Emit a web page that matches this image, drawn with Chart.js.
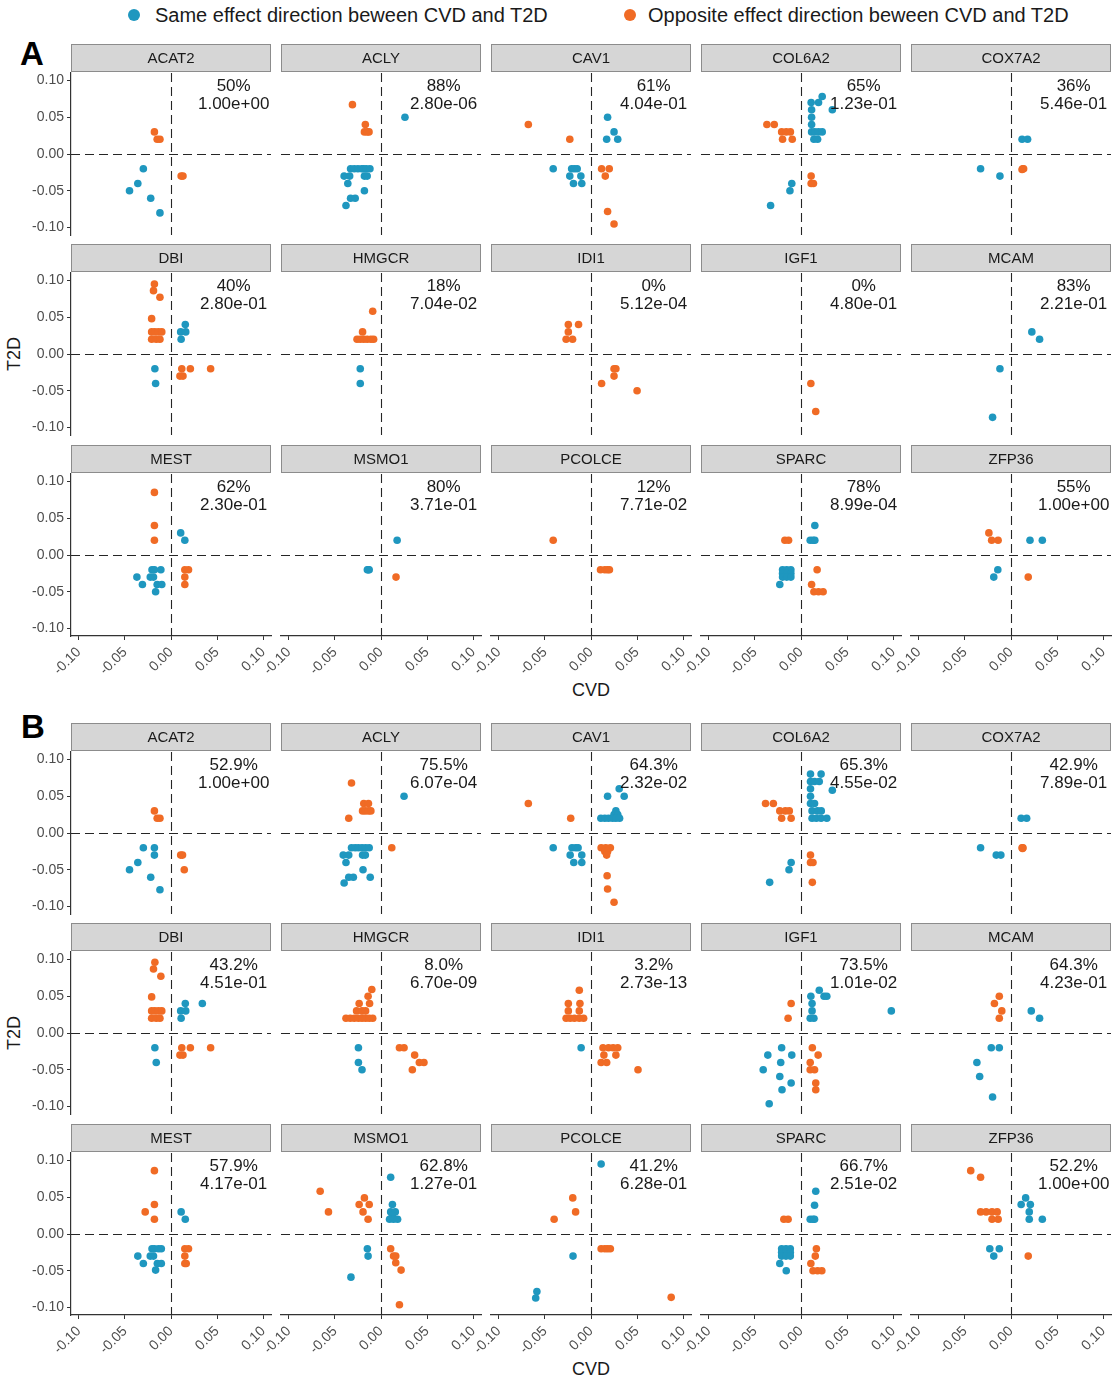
<!DOCTYPE html>
<html>
<head>
<meta charset="utf-8">
<script src="https://cdn.jsdelivr.net/npm/chart.js@4.4.1/dist/chart.umd.min.js"></script>
<style>
  html, body { margin: 0; padding: 0; background: #fff; }
  #fig { position: relative; width: 1113px; height: 1379px; overflow: hidden;
         font-family: "Liberation Sans", Arial, sans-serif; color: #1a1a1a; }
  #fig canvas { position: absolute; }
  .lbl { position: absolute; white-space: nowrap; }
  .dot { position: absolute; width: 12px; height: 12px; border-radius: 50%; }
</style>
</head>
<body>
<div id="fig">
  <span class="dot" id="dotSame" style="left:128px;top:9px"></span>
  <div class="lbl" style="left:155px;top:3px;font-size:20px;line-height:24px">Same effect direction beween CVD and T2D</div>
  <span class="dot" id="dotOpp" style="left:624px;top:9px"></span>
  <div class="lbl" style="left:648px;top:3px;font-size:20px;line-height:24px">Opposite effect direction beween CVD and T2D</div>

  <div class="lbl" style="left:20px;top:37px;font-size:33px;line-height:33px;font-weight:bold;color:#000">A</div>
  <div class="lbl" style="left:21px;top:710px;font-size:33px;line-height:33px;font-weight:bold;color:#000">B</div>

  <div class="lbl" style="left:-6px;top:343px;width:40px;text-align:center;font-size:18px;line-height:22px;transform:rotate(-90deg)">T2D</div>
  <div class="lbl" style="left:-6px;top:1022px;width:40px;text-align:center;font-size:18px;line-height:22px;transform:rotate(-90deg)">T2D</div>
  <div class="lbl" style="left:551px;top:679px;width:80px;text-align:center;font-size:18px;line-height:22px">CVD</div>
  <div class="lbl" style="left:551px;top:1358px;width:80px;text-align:center;font-size:18px;line-height:22px">CVD</div>
</div>

<script>
// ---- data -------------------------------------------------------------
const genes = ['ACAT2','ACLY','CAV1','COL6A2','COX7A2','DBI','HMGCR','IDI1','IGF1','MCAM','MEST','MSMO1','PCOLCE','SPARC','ZFP36'];
const tickValues = [-0.10, -0.05, 0.00, 0.05, 0.10];

const pctA  = ['50%','88%','61%','65%','36%','40%','18%','0%','0%','83%','62%','80%','12%','78%','55%'];
const pvalA = ['1.00e+00','2.80e-06','4.04e-01','1.23e-01','5.46e-01','2.80e-01','7.04e-02','5.12e-04','4.80e-01','2.21e-01','2.30e-01','3.71e-01','7.71e-02','8.99e-04','1.00e+00'];
const pctB  = ['52.9%','75.5%','64.3%','65.3%','42.9%','43.2%','8.0%','3.2%','73.5%','64.3%','57.9%','62.8%','41.2%','66.7%','52.2%'];
const pvalB = ['1.00e+00','6.07e-04','2.32e-02','4.55e-02','7.89e-01','4.51e-01','6.70e-09','2.73e-13','1.01e-02','4.23e-01','4.17e-01','1.27e-01','6.28e-01','2.51e-02','1.00e+00'];

// [CVD effect, T2D effect] per gene, same effect direction (set A)
const sameA = [
  [[-0.030,-0.02],[-0.036,-0.04],[-0.045,-0.05],[-0.022,-0.06],[-0.012,-0.08]],
  [[0.026,0.05],[-0.033,-0.02],[-0.029,-0.02],[-0.025,-0.02],[-0.021,-0.02],[-0.019,-0.02],[-0.016,-0.02],[-0.012,-0.02],[-0.040,-0.03],[-0.034,-0.03],[-0.018,-0.03],[-0.015,-0.03],[-0.036,-0.04],[-0.018,-0.05],[-0.033,-0.06],[-0.028,-0.06],[-0.038,-0.07]],
  [[0.018,0.05],[0.025,0.03],[0.017,0.02],[0.029,0.02],[-0.041,-0.02],[-0.021,-0.02],[-0.018,-0.02],[-0.015,-0.02],[-0.023,-0.03],[-0.011,-0.03],[-0.019,-0.04],[-0.010,-0.04]],
  [[0.023,0.078],[0.019,0.07],[0.011,0.07],[0.034,0.06],[0.0115,0.06],[0.0115,0.05],[0.0115,0.04],[0.0115,0.03],[0.015,0.03],[0.019,0.03],[0.023,0.03],[0.014,0.02],[0.018,0.02],[-0.010,-0.04],[-0.012,-0.05],[-0.033,-0.07]],
  [[0.012,0.02],[0.018,0.02],[-0.033,-0.02],[-0.012,-0.03]],
  [[0.0155,0.04],[0.0105,0.03],[0.016,0.03],[0.011,0.02],[-0.0175,-0.02],[-0.0167,-0.04]],
  [[-0.0225,-0.02],[-0.0225,-0.04]],
  [],
  [],
  [[0.0226,0.03],[0.031,0.02],[-0.012,-0.02],[-0.020,-0.086]],
  [[0.0105,0.03],[0.015,0.02],[-0.0206,-0.02],[-0.018,-0.02],[-0.011,-0.02],[-0.037,-0.03],[-0.0225,-0.03],[-0.019,-0.03],[-0.031,-0.04],[-0.015,-0.04],[-0.010,-0.04],[-0.0167,-0.05]],
  [[0.0175,0.02],[-0.0148,-0.02],[-0.0128,-0.02],[-0.0138,-0.02]],
  [],
  [[0.015,0.04],[0.010,0.02],[0.013,0.02],[0.015,0.02],[-0.020,-0.02],[-0.0155,-0.02],[-0.011,-0.02],[-0.020,-0.025],[-0.0155,-0.025],[-0.011,-0.025],[-0.020,-0.03],[-0.0155,-0.03],[-0.011,-0.03],[-0.023,-0.04]],
  [[0.0206,0.02],[0.034,0.02],[-0.0143,-0.02],[-0.0187,-0.03]]
];

// opposite effect direction (set A)
const oppA = [
  [[-0.018,0.03],[-0.015,0.02],[-0.012,0.02],[0.011,-0.03],[0.013,-0.03]],
  [[-0.031,0.067],[-0.017,0.04],[-0.018,0.03],[-0.015,0.03],[-0.013,0.03]],
  [[-0.068,0.04],[-0.023,0.02],[0.0115,-0.02],[0.0198,-0.02],[0.0155,-0.03],[0.018,-0.078],[0.025,-0.095]],
  [[-0.037,0.04],[-0.029,0.04],[-0.021,0.03],[-0.016,0.03],[-0.0115,0.03],[-0.020,0.02],[-0.0095,0.02],[0.011,-0.03],[0.011,-0.04],[0.0135,-0.04]],
  [[0.0127,-0.02],[0.0137,-0.02],[0.012,-0.021]],
  [[-0.018,0.095],[-0.019,0.086],[-0.012,0.077],[-0.021,0.048],[-0.021,0.03],[-0.0175,0.03],[-0.0136,0.03],[-0.010,0.03],[-0.021,0.02],[-0.016,0.02],[-0.012,0.02],[0.0117,-0.02],[0.0097,-0.03],[0.013,-0.03],[0.021,-0.02],[0.043,-0.02]],
  [[-0.009,0.058],[-0.020,0.03],[-0.026,0.02],[-0.0225,0.02],[-0.0187,0.02],[-0.015,0.02],[-0.011,0.02],[-0.008,0.02]],
  [[-0.0246,0.04],[-0.0135,0.04],[-0.0246,0.03],[-0.027,0.02],[-0.020,0.02],[0.025,-0.02],[0.027,-0.02],[0.025,-0.03],[0.0115,-0.04],[0.050,-0.05]],
  [[0.0107,-0.04],[0.016,-0.078]],
  [],
  [[-0.018,0.085],[-0.018,0.04],[-0.018,0.02],[0.015,-0.02],[0.019,-0.02],[0.015,-0.03],[0.015,-0.04]],
  [[0.0163,-0.03]],
  [[-0.041,0.02],[0.0103,-0.02],[0.015,-0.02],[0.018,-0.02],[0.020,-0.02]],
  [[-0.0175,0.02],[-0.0135,0.02],[0.0175,-0.02],[0.0115,-0.04],[0.014,-0.05],[0.019,-0.05],[0.024,-0.05]],
  [[-0.024,0.03],[-0.021,0.02],[-0.014,0.02],[0.0187,-0.03]]
];

// same effect direction (set B)
const sameB = [
  [[-0.030,-0.02],[-0.018,-0.02],[-0.018,-0.03],[-0.036,-0.04],[-0.045,-0.05],[-0.022,-0.06],[-0.012,-0.077]],
  [[0.025,0.05],[-0.032,-0.02],[-0.028,-0.02],[-0.0245,-0.02],[-0.0206,-0.02],[-0.0167,-0.02],[-0.0128,-0.02],[-0.041,-0.03],[-0.035,-0.03],[-0.020,-0.03],[-0.017,-0.03],[-0.038,-0.04],[-0.0195,-0.05],[-0.035,-0.06],[-0.030,-0.06],[-0.0117,-0.06],[-0.040,-0.068]],
  [[0.0306,0.06],[0.018,0.05],[0.036,0.05],[0.027,0.03],[0.025,0.025],[0.029,0.025],[0.0107,0.02],[0.015,0.02],[0.019,0.02],[0.0234,0.02],[0.027,0.02],[0.031,0.02],[-0.041,-0.02],[-0.0206,-0.02],[-0.0167,-0.02],[-0.014,-0.02],[-0.0226,-0.03],[-0.010,-0.03],[-0.0187,-0.04],[-0.010,-0.04]],
  [[0.0103,0.08],[0.0218,0.08],[0.0103,0.07],[0.0147,0.07],[0.0198,0.07],[0.0103,0.06],[0.034,0.058],[0.0103,0.05],[0.0103,0.04],[0.0147,0.04],[0.012,0.03],[0.018,0.03],[0.022,0.03],[0.012,0.02],[0.0166,0.02],[0.0218,0.02],[0.028,0.02],[-0.0107,-0.04],[-0.013,-0.05],[-0.034,-0.067]],
  [[0.011,0.02],[0.017,0.02],[-0.033,-0.02],[-0.016,-0.03],[-0.011,-0.03]],
  [[0.0155,0.04],[0.034,0.04],[0.0105,0.03],[0.016,0.03],[0.011,0.02],[-0.0175,-0.02],[-0.016,-0.04]],
  [[-0.0245,-0.02],[-0.0245,-0.04],[-0.0206,-0.05]],
  [[-0.0107,-0.02]],
  [[0.0198,0.058],[0.0107,0.05],[0.025,0.05],[0.028,0.05],[0.012,0.04],[0.012,0.03],[0.010,0.02],[0.014,0.02],[0.098,0.03],[-0.021,-0.02],[-0.036,-0.03],[-0.010,-0.03],[-0.022,-0.04],[-0.041,-0.05],[-0.023,-0.059],[-0.0107,-0.068],[-0.0206,-0.077],[-0.0345,-0.096]],
  [[0.022,0.03],[0.031,0.02],[-0.0214,-0.02],[-0.0127,-0.02],[-0.037,-0.04],[-0.034,-0.059],[-0.020,-0.087]],
  [[0.011,0.03],[0.0155,0.02],[-0.0206,-0.02],[-0.018,-0.02],[-0.0136,-0.02],[-0.0105,-0.02],[-0.036,-0.03],[-0.0225,-0.03],[-0.019,-0.03],[-0.030,-0.04],[-0.0148,-0.04],[-0.0105,-0.04],[-0.0167,-0.049]],
  [[0.0105,0.077],[0.0124,0.04],[0.0105,0.03],[0.0155,0.03],[0.0124,0.025],[0.0093,0.02],[0.0136,0.02],[0.018,0.02],[-0.0148,-0.02],[-0.014,-0.03],[-0.0326,-0.0586]],
  [[0.011,0.095],[-0.0195,-0.03],[-0.0587,-0.078],[-0.060,-0.087]],
  [[0.016,0.058],[0.0147,0.039],[0.010,0.02],[0.013,0.02],[0.0147,0.02],[-0.021,-0.02],[-0.0163,-0.02],[-0.0116,-0.02],[-0.021,-0.025],[-0.0163,-0.025],[-0.0116,-0.025],[-0.021,-0.03],[-0.0163,-0.03],[-0.0116,-0.03],[-0.023,-0.04],[-0.016,-0.05]],
  [[0.0159,0.049],[0.011,0.04],[0.021,0.04],[0.0198,0.03],[0.0198,0.02],[0.034,0.02],[-0.023,-0.02],[-0.0127,-0.02],[-0.0187,-0.03]]
];

// opposite effect direction (set B)
const oppB = [
  [[-0.018,0.03],[-0.015,0.02],[-0.012,0.02],[0.0105,-0.03],[0.0125,-0.03],[0.0144,-0.05]],
  [[-0.032,0.068],[-0.0187,0.04],[-0.0136,0.04],[-0.020,0.03],[-0.017,0.03],[-0.0136,0.03],[-0.011,0.03],[-0.035,0.02],[0.0117,-0.02]],
  [[-0.068,0.04],[-0.022,0.02],[0.011,-0.02],[0.016,-0.02],[0.021,-0.02],[0.015,-0.025],[0.018,-0.025],[0.017,-0.03],[0.0175,-0.058],[0.018,-0.076],[0.025,-0.094]],
  [[-0.0385,0.04],[-0.030,0.04],[-0.023,0.03],[-0.017,0.03],[-0.0127,0.03],[-0.021,0.02],[-0.0107,0.02],[0.0103,-0.03],[0.0103,-0.04],[0.013,-0.04],[0.0123,-0.067]],
  [[0.012,-0.02],[0.013,-0.02],[0.0125,-0.021]],
  [[-0.0175,0.096],[-0.019,0.087],[-0.011,0.077],[-0.021,0.049],[-0.021,0.03],[-0.0175,0.03],[-0.0136,0.03],[-0.010,0.03],[-0.021,0.02],[-0.016,0.02],[-0.012,0.02],[0.0117,-0.02],[0.0097,-0.03],[0.013,-0.03],[0.021,-0.02],[0.043,-0.02]],
  [[-0.010,0.059],[-0.014,0.05],[-0.0237,0.04],[-0.0124,0.04],[-0.0265,0.03],[-0.0206,0.03],[-0.0167,0.03],[-0.038,0.02],[-0.0334,0.02],[-0.029,0.02],[-0.0245,0.02],[-0.0206,0.02],[-0.0167,0.02],[-0.0128,0.02],[-0.009,0.02],[0.020,-0.02],[0.025,-0.02],[0.0365,-0.03],[0.0416,-0.04],[0.0466,-0.04],[0.034,-0.05]],
  [[-0.0127,0.058],[-0.0246,0.04],[-0.012,0.04],[-0.0246,0.03],[-0.0127,0.03],[-0.027,0.02],[-0.0226,0.02],[-0.018,0.02],[-0.0127,0.02],[-0.008,0.02],[0.013,-0.02],[0.019,-0.02],[0.024,-0.02],[0.029,-0.02],[0.014,-0.03],[0.027,-0.03],[0.011,-0.04],[0.017,-0.04],[0.051,-0.05]],
  [[-0.0107,0.04],[-0.014,0.02],[0.0123,-0.02],[0.0186,-0.03],[0.010,-0.04],[0.010,-0.05],[0.0147,-0.05],[0.016,-0.068],[0.016,-0.077]],
  [[-0.0127,0.05],[-0.018,0.04],[-0.010,0.03],[-0.0127,0.02]],
  [[-0.018,0.086],[-0.018,0.04],[-0.028,0.03],[-0.018,0.02],[0.015,-0.02],[0.019,-0.02],[0.015,-0.03],[0.015,-0.04],[0.0165,-0.04]],
  [[-0.066,0.058],[-0.057,0.03],[-0.018,0.049],[-0.0237,0.04],[-0.0128,0.04],[-0.0195,0.03],[-0.014,0.02],[0.0105,-0.02],[0.0136,-0.03],[0.016,-0.03],[0.016,-0.039],[0.0218,-0.049],[0.020,-0.096]],
  [[-0.0198,0.049],[-0.0167,0.03],[-0.040,0.02],[0.011,-0.02],[0.015,-0.02],[0.018,-0.02],[0.021,-0.02],[0.087,-0.086]],
  [[-0.0186,0.02],[-0.014,0.02],[0.0167,-0.02],[0.0155,-0.03],[0.0107,-0.04],[0.013,-0.05],[0.018,-0.05],[0.0226,-0.05]],
  [[-0.0437,0.086],[-0.033,0.077],[-0.033,0.03],[-0.027,0.03],[-0.0206,0.03],[-0.015,0.03],[-0.0206,0.02],[-0.0139,0.02],[0.0187,-0.03]]
];

// ---- styling & layout -------------------------------------------------
const FONT = '"Liberation Sans", Arial, sans-serif';
const COLORS = { same: '#1f97bf', opp: '#f06b25' };
const PLOT_W = 200, PLOT_H = 162, STRIP_H = 29;
const PAD_L = 62, PAD_R = 12, PAD_B = 62;
const X_RANGE = [-0.1085, 0.1085], Y_RANGE = [-0.11, 0.11];
const blockTops = { A: [44, 244, 445], B: [723, 923, 1124] };
const colLeft = c => 71 + 210 * c;

Chart.defaults.font.family = FONT;
document.getElementById('dotSame').style.background = COLORS.same;
document.getElementById('dotOpp').style.background = COLORS.opp;

// facet strip, zero reference lines and the in-panel statistics
const panelDeco = {
  id: 'panelDeco',
  beforeDatasetsDraw(chart, _args, o) {
    const { ctx, chartArea: a, scales: { x, y } } = chart;
    ctx.save();
    ctx.fillStyle = '#d6d6d6';
    ctx.fillRect(a.left, a.top - STRIP_H, a.width, STRIP_H - 1);
    ctx.strokeStyle = '#8c8c8c';
    ctx.lineWidth = 1;
    ctx.strokeRect(a.left + 0.5, a.top - STRIP_H + 0.5, a.width - 1, STRIP_H - 2);
    ctx.fillStyle = '#1a1a1a';
    ctx.font = '15px ' + FONT;
    ctx.textAlign = 'center';
    ctx.textBaseline = 'middle';
    ctx.fillText(o.title, (a.left + a.right) / 2, a.top - STRIP_H / 2 + 0.5);

    ctx.beginPath();
    ctx.rect(a.left, a.top, a.width, a.height);
    ctx.clip();
    ctx.strokeStyle = '#262626';
    ctx.lineWidth = 1.1;
    ctx.setLineDash([9, 5]);
    const x0 = Math.round(x.getPixelForValue(0)) + 0.5;
    const y0 = Math.round(y.getPixelForValue(0)) + 0.5;
    ctx.beginPath(); ctx.moveTo(a.left, y0); ctx.lineTo(a.right, y0); ctx.stroke();
    ctx.beginPath(); ctx.moveTo(x0, a.top); ctx.lineTo(x0, a.bottom); ctx.stroke();
    ctx.restore();
  },
  afterDatasetsDraw(chart, _args, o) {
    const { ctx, scales: { x, y } } = chart;
    ctx.save();
    ctx.fillStyle = '#1a1a1a';
    ctx.font = '17px ' + FONT;
    ctx.textAlign = 'center';
    ctx.textBaseline = 'middle';
    const tx = x.getPixelForValue(0.068);
    ctx.fillText(o.pct, tx, y.getPixelForValue(0.0925));
    ctx.fillText(o.pval, tx, y.getPixelForValue(0.068));
    ctx.restore();
  }
};

const fig = document.getElementById('fig');

function axisCommon() {
  return {
    type: 'linear',
    afterBuildTicks: s => { s.ticks = tickValues.map(v => ({ value: v })); },
    grid: { display: true, drawOnChartArea: false, drawTicks: true, tickLength: 4, color: '#333', lineWidth: 1 },
    border: { display: true, color: '#333', width: 1.2 },
    ticks: { color: '#4d4d4d', font: { family: FONT, size: 14 }, callback: v => Number(v).toFixed(2) }
  };
}

function makePanel(block, idx, same, opp, pct, pval) {
  const r = Math.floor(idx / 5), c = idx % 5;
  const W = PAD_L + PLOT_W + PAD_R, H = STRIP_H + PLOT_H + PAD_B;
  const cv = document.createElement('canvas');
  cv.width = W; cv.height = H;
  cv.style.width = W + 'px'; cv.style.height = H + 'px';
  cv.style.left = (colLeft(c) - PAD_L) + 'px';
  cv.style.top = blockTops[block][r] + 'px';
  fig.appendChild(cv);

  const showX = r === 2, showY = c === 0;

  const xAxis = axisCommon();
  Object.assign(xAxis, { min: X_RANGE[0], max: X_RANGE[1], display: showX,
    afterFit: s => { s.height = showX ? PAD_B : 0; } });
  Object.assign(xAxis.ticks, { autoSkip: false, minRotation: 45, maxRotation: 45, padding: 4 });

  const yAxis = axisCommon();
  Object.assign(yAxis, { min: Y_RANGE[0], max: Y_RANGE[1], display: showY,
    afterFit: s => { s.width = showY ? PAD_L : 0; } });
  Object.assign(yAxis.ticks, { padding: 3 });

  const ds = (pts, col) => ({
    data: pts.map(p => ({ x: p[0], y: p[1] })),
    backgroundColor: col, borderWidth: 0,
    pointRadius: 3.8, pointHoverRadius: 3.8
  });

  new Chart(cv, {
    type: 'scatter',
    data: { datasets: [ds(same, COLORS.same), ds(opp, COLORS.opp)] },
    options: {
      responsive: false, animation: false, devicePixelRatio: 1, events: [],
      layout: { padding: { top: STRIP_H, left: showY ? 0 : PAD_L, right: PAD_R, bottom: showX ? 0 : PAD_B } },
      plugins: {
        legend: { display: false }, tooltip: { enabled: false },
        panelDeco: { title: genes[idx], pct, pval }
      },
      scales: { x: xAxis, y: yAxis }
    },
    plugins: [panelDeco]
  });
}

genes.forEach((g, i) => makePanel('A', i, sameA[i], oppA[i], pctA[i], pvalA[i]));
genes.forEach((g, i) => makePanel('B', i, sameB[i], oppB[i], pctB[i], pvalB[i]));
</script>
</body>
</html>
